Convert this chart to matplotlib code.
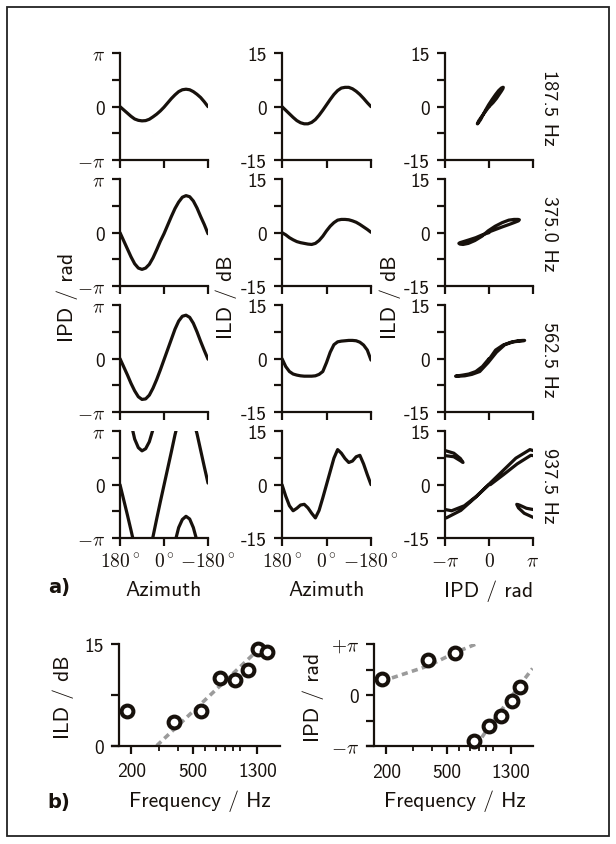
import numpy as np
import matplotlib
matplotlib.use('Agg')
import matplotlib.pyplot as plt
from matplotlib.patches import Rectangle

# ---------------- data ----------------
azimuth = [180, 165, 150, 135, 120, 105, 90, 75, 60, 45, 30, 15, 0,
           -15, -30, -45, -60, -75, -90, -105, -120, -135, -150, -165, -180]

freq_labels = ['187.5 Hz', '375.0 Hz', '562.5 Hz', '937.5 Hz']

# IPD in units of pi (unwrapped)
ipd_187 = [0, -0.06, -0.12, -0.18, -0.23, -0.255, -0.265, -0.26, -0.235, -0.19, -0.14, -0.08, -0.01,
           0.07, 0.15, 0.22, 0.28, 0.315, 0.325, 0.315, 0.28, 0.23, 0.17, 0.09, 0.0]
ipd_375 = [0, -0.15, -0.30, -0.45, -0.58, -0.66, -0.685, -0.66, -0.59, -0.47, -0.32, -0.16, -0.02,
           0.14, 0.30, 0.45, 0.57, 0.66, 0.69, 0.67, 0.59, 0.46, 0.30, 0.15, -0.02]
ipd_562 = [0, -0.15, -0.30, -0.46, -0.60, -0.71, -0.76, -0.75, -0.68, -0.55, -0.39, -0.21, -0.02,
           0.17, 0.36, 0.55, 0.70, 0.79, 0.81, 0.77, 0.66, 0.50, 0.32, 0.15, -0.01]
ipd_937 = [0, -0.28, -0.56, -0.85, -1.15, -1.31, -1.37, -1.33, -1.20, -0.97, -0.64, -0.32, -0.01,
           0.30, 0.61, 0.93, 1.20, 1.35, 1.41, 1.36, 1.20, 0.95, 0.64, 0.33, 0.03]

# ILD in dB
ild_187 = [0, -1.0, -2.0, -3.0, -3.9, -4.5, -4.8, -4.8, -4.4, -3.6, -2.4, -1.0, 0.5,
           2.0, 3.4, 4.5, 5.2, 5.4, 5.4, 5.0, 4.3, 3.4, 2.3, 1.1, 0]
ild_375 = [0, -0.6, -1.4, -2.0, -2.5, -2.8, -3.0, -3.2, -3.3, -3.0, -2.2, -1.0, 0.5,
           1.8, 2.8, 3.5, 3.7, 3.7, 3.6, 3.3, 2.9, 2.3, 1.6, 0.9, 0.1]
ild_562 = [0, -2.2, -3.6, -4.3, -4.6, -4.8, -4.9, -4.9, -4.9, -4.8, -4.4, -3.6, -1.1,
           1.8, 3.9, 4.7, 4.9, 5.0, 5.1, 5.1, 5.0, 4.6, 3.8, 2.4, -0.4]
ild_937 = [0, -3.2, -5.9, -7.3, -6.6, -5.7, -5.5, -6.5, -8.0, -9.3, -7.2, -3.7, 0.0,
           3.7, 7.4, 9.8, 8.8, 7.3, 6.2, 6.6, 7.8, 8.2, 5.8, 2.8, 0]

ipd_rows = [ipd_187, ipd_375, ipd_562, ipd_937]
ild_rows = [ild_187, ild_375, ild_562, ild_937]

# panel b
freqs = [187.5, 375, 562.5, 750, 937.5, 1125, 1312.5, 1500]
ild_peak = [5.1, 3.5, 5.1, 10.0, 9.7, 11.2, 14.3, 13.8]
ipd_peak = [0.31, 0.69, 0.82, -0.90, -0.61, -0.41, -0.12, 0.16]   # units of pi

ild_fit_f = [291, 1440]
ild_fit_v = [0, 15]
ipd_fit_f = [187.5, 375, 562.5, 770, np.nan, 770, 937.5, 1125, 1312.5, 1500, 1800]
ipd_fit_v = [0.27, 0.57, 0.83, 1.0, np.nan, -1.0, -0.62, -0.30, -0.03, 0.21, 0.52]  # units of pi

freq_major = [200, 500, 1300]
freq_minor = [300, 400, 600, 700, 800, 900, 1000]

# ---------------- style ----------------
plt.rcParams['mathtext.fontset'] = 'cm'
plt.rcParams['font.family'] = ['cmss10', 'DejaVu Sans']
plt.rcParams['axes.unicode_minus'] = False

W, H = 616, 845
fig = plt.figure(figsize=(W / 100, H / 100), dpi=100)
INK = '#17110c'
GRAY = '#9b9b9b'
PI = np.pi
TICK = 14
LBL = 15.5


def rect(x0, x1, yt, yb):
    return [x0 / W, 1 - yb / H, (x1 - x0) / W, (yb - yt) / H]


def style(ax):
    for s in ['top', 'right']:
        ax.spines[s].set_visible(False)
    for s in ['left', 'bottom']:
        ax.spines[s].set_linewidth(1.6)
        ax.spines[s].set_color(INK)
    ax.tick_params(which='major', direction='out', length=6, width=1.6, color=INK,
                   labelsize=TICK, labelcolor=INK)
    ax.tick_params(axis='y', which='major', pad=5)
    ax.tick_params(axis='x', which='major', pad=4)
    ax.tick_params(which='minor', direction='out', length=3.5, width=1.3, color=INK)
    ax.patch.set_alpha(0)


cols = [(120, 208), (282, 371), (445, 533)]
rows = [(54, 161.3), (180, 287.3), (306, 413.3), (432, 539.3)]

pi_ticks = [-PI, -PI / 2, 0, PI / 2, PI]
pi_labels = [r'$-\pi$', '', '0', '', r'$\pi$']
db_ticks = [-15, -7.5, 0, 7.5, 15]
db_labels = ['-15', '', '0', '', '15']
deg_labels = [r'$180^\circ$', r'$0^\circ$', r'$-180^\circ$']
lw = 2.3

for r, (yt, yb) in enumerate(rows):
    ipd = np.array(ipd_rows[r]) * PI
    ild = np.array(ild_rows[r])
    last = (r == 3)
    # column 1: IPD vs azimuth (wrapped)
    ax = fig.add_axes(rect(*cols[0], yt, yb))
    style(ax)
    for k in (-1, 0, 1):
        ax.plot(azimuth, ipd + 2 * PI * k, color=INK, lw=lw, solid_capstyle='round')
    ax.set_xlim(180, -180)
    ax.set_ylim(-PI, PI)
    ax.set_yticks(pi_ticks)
    ax.set_yticklabels(pi_labels)
    ax.set_xticks([180, 0, -180])
    ax.set_xticklabels(deg_labels if last else ['', '', ''])
    # column 2: ILD vs azimuth
    ax = fig.add_axes(rect(*cols[1], yt, yb))
    style(ax)
    ax.plot(azimuth, ild, color=INK, lw=lw, solid_capstyle='round')
    ax.set_xlim(180, -180)
    ax.set_ylim(-15, 15)
    ax.set_yticks(db_ticks)
    ax.set_yticklabels(db_labels)
    ax.set_xticks([180, 0, -180])
    ax.set_xticklabels(deg_labels if last else ['', '', ''])
    # column 3: ILD vs IPD
    ax = fig.add_axes(rect(*cols[2], yt, yb))
    style(ax)
    for k in (-1, 0, 1):
        ax.plot(ipd + 2 * PI * k, ild, color=INK, lw=lw, solid_capstyle='round')
    ax.set_xlim(-PI, PI)
    ax.set_ylim(-15, 15)
    ax.set_yticks(db_ticks)
    ax.set_yticklabels(db_labels)
    ax.set_xticks([-PI, 0, PI])
    ax.set_xticklabels([r'$-\pi$', r'$0$', r'$\pi$'] if last else ['', '', ''])
    fig.text(549 / W, 1 - (yt + yb) / 2 / H, freq_labels[r], rotation=270,
             ha='center', va='center', fontsize=14.5, color=INK)

fig.text(67 / W, 1 - 297 / H, 'IPD / rad', rotation=90, ha='center', va='center', fontsize=LBL, color=INK)
fig.text(226 / W, 1 - 297 / H, 'ILD / dB', rotation=90, ha='center', va='center', fontsize=LBL, color=INK)
fig.text(390 / W, 1 - 297 / H, 'ILD / dB', rotation=90, ha='center', va='center', fontsize=LBL, color=INK)
fig.text(164 / W, 1 - 591 / H, 'Azimuth', ha='center', va='center', fontsize=LBL, color=INK)
fig.text(326.5 / W, 1 - 591 / H, 'Azimuth', ha='center', va='center', fontsize=LBL, color=INK)
fig.text(489 / W, 1 - 591 / H, 'IPD / rad', ha='center', va='center', fontsize=LBL, color=INK)
fig.text(59 / W, 1 - 588 / H, 'a)', ha='center', va='center', fontsize=14, color=INK,
         family='DejaVu Sans', weight='bold')
fig.text(59 / W, 1 - 803 / H, 'b)', ha='center', va='center', fontsize=14, color=INK,
         family='DejaVu Sans', weight='bold')

# ---------------- panel b ----------------
def style_freq(ax):
    style(ax)
    ax.set_xscale('log')
    ax.set_xlim(149, 1820)
    ax.spines['left'].set_position(('data', 167))
    ax.set_xticks(freq_major)
    ax.set_xticklabels([str(f) for f in freq_major])
    ax.set_xticks(freq_minor, minor=True)
    ax.set_xticklabels([], minor=True)
    ax.tick_params(axis='x', which='major', pad=6)


DASH = (0, (1.7, 1.2))
axb1 = fig.add_axes(rect(111.7, 280, 645, 746.7))
style_freq(axb1)
axb1.plot(ild_fit_f, ild_fit_v, color=GRAY, lw=2.6, ls=DASH, zorder=2)
axb1.plot(freqs, ild_peak, 'o', ms=8.5, mfc='white', mec=INK, mew=2.9, zorder=3, clip_on=False)
axb1.set_ylim(0, 15)
axb1.set_yticks([0, 7.5, 15])
axb1.set_yticklabels(['0', '', '15'])

axb2 = fig.add_axes(rect(366.7, 533.3, 645, 747))
style_freq(axb2)
axb2.plot(ipd_fit_f, np.array(ipd_fit_v) * PI, color=GRAY, lw=2.6, ls=DASH, zorder=2)
axb2.plot(freqs, np.array(ipd_peak) * PI, 'o', ms=8.5, mfc='white', mec=INK, mew=2.9, zorder=3, clip_on=False)
axb2.set_ylim(-PI, PI)
axb2.set_yticks(pi_ticks)
axb2.set_yticklabels([r'$-\pi$', '', '0', '', r'$+\pi$'])

fig.text(63 / W, 1 - 697 / H, 'ILD / dB', rotation=90, ha='center', va='center', fontsize=LBL, color=INK)
fig.text(313 / W, 1 - 697 / H, 'IPD / rad', rotation=90, ha='center', va='center', fontsize=LBL, color=INK)
fig.text(200 / W, 1 - 801 / H, 'Frequency / Hz', ha='center', va='center', fontsize=LBL, color=INK)
fig.text(455 / W, 1 - 801 / H, 'Frequency / Hz', ha='center', va='center', fontsize=LBL, color=INK)

# frame
fig.patches.append(Rectangle((7 / W, 1 - 837 / H), 602 / W, 829 / H, transform=fig.transFigure,
                             fill=False, lw=1.3, edgecolor='#222222'))

fig.savefig('out.png', dpi=100, facecolor='white')
